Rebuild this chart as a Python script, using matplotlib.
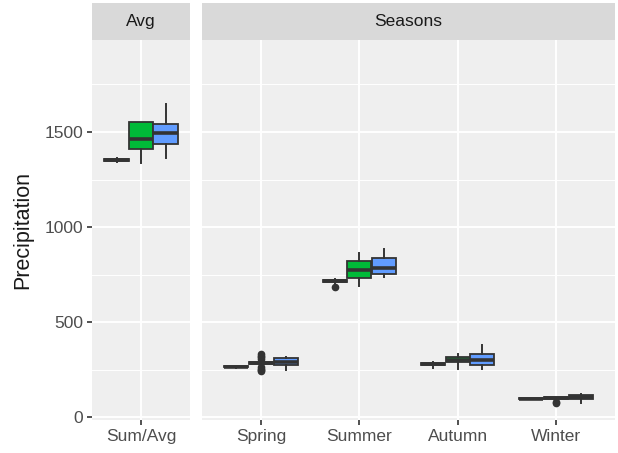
import matplotlib.pyplot as plt

plt.rcParams['font.family'] = ['Liberation Sans', 'DejaVu Sans']

# box statistics per group, three series (red, green, blue) per category
avg_cats = ['Sum/Avg']
season_cats = ['Spring', 'Summer', 'Autumn', 'Winter']

# order: Sum/Avg, Spring, Summer, Autumn, Winter
red_q1 = [1347, 262, 712, 274, 96]
red_med = [1352, 265, 717, 279, 98]
red_q3 = [1357, 268, 722, 284, 101]
red_lo = [1340, 258, 705, 261, 94]
red_hi = [1362, 271, 726, 288, 102]
red_fliers = [[], [], [683], [], []]

green_q1 = [1409, 281, 730, 288, 98]
green_med = [1461, 285, 774, 300, 102]
green_q3 = [1551, 290, 823, 314, 106]
green_lo = [1335, 268, 690, 253, 92]
green_hi = [1551, 300, 865, 331, 108]
green_fliers = [[], [242, 248, 255, 262, 308, 315, 322, 330], [], [], [75, 82]]

blue_q1 = [1437, 274, 751, 276, 98]
blue_med = [1493, 290, 782, 300, 107]
blue_q3 = [1542, 309, 835, 330, 119]
blue_lo = [1362, 247, 735, 251, 75]
blue_hi = [1647, 314, 883, 379, 121]
blue_fliers = [[], [], [], [], []]

fills = ['#F8766D', '#00BA38', '#619CFF']
series = [
    (red_q1, red_med, red_q3, red_lo, red_hi, red_fliers),
    (green_q1, green_med, green_q3, green_lo, green_hi, green_fliers),
    (blue_q1, blue_med, blue_q3, blue_lo, blue_hi, blue_fliers),
]

W, H = 618, 453
fig = plt.figure(figsize=(W / 100, H / 100), dpi=100)
fig.patch.set_facecolor('white')


def px_axes(x0, y0, x1, y1):
    return fig.add_axes([x0 / W, 1 - y1 / H, (x1 - x0) / W, (y1 - y0) / H])


def draw_panel(ax, cats, idx0, xlim):
    ax.set_facecolor('#EFEFEF')
    ax.set_xlim(*xlim)
    ax.set_ylim(-15, 1984)
    for s in ax.spines.values():
        s.set_visible(False)
    for v in [250, 750, 1250, 1750]:
        ax.axhline(v, color='white', lw=0.7, zorder=0)
    for v in [0, 500, 1000, 1500]:
        ax.axhline(v, color='white', lw=1.4, zorder=0)
    for i in range(len(cats)):
        ax.axvline(i + 1, color='white', lw=1.4, zorder=0)
    for k, (q1, med, q3, lo, hi, fl) in enumerate(series):
        stats = []
        pos = []
        for i in range(len(cats)):
            j = idx0 + i
            stats.append(dict(q1=q1[j], med=med[j], q3=q3[j], whislo=lo[j],
                              whishi=hi[j], fliers=fl[j]))
            pos.append(i + 1 + (k - 1) * 0.25)
        ax.bxp(stats, positions=pos, widths=0.245, patch_artist=True,
               showcaps=False, manage_ticks=False,
               boxprops=dict(facecolor=fills[k], edgecolor='#333333', lw=1.3),
               medianprops=dict(color='#333333', lw=2.6),
               whiskerprops=dict(color='#333333', lw=1.4),
               flierprops=dict(marker='o', markersize=4.5,
                               markerfacecolor='#333333',
                               markeredgecolor='#333333'),
               zorder=3)
    ax.set_xticks(range(1, len(cats) + 1))
    ax.set_xticklabels(cats)
    ax.tick_params(axis='x', length=3.5, width=1.2, color='#333333',
                   labelsize=12.5, labelcolor='#4D4D4D', pad=3)


def strip(x0, x1, label):
    sa = px_axes(x0, 3, x1, 40)
    sa.set_facecolor('#D9D9D9')
    sa.set_xticks([])
    sa.set_yticks([])
    for s in sa.spines.values():
        s.set_visible(False)
    sa.text(0.5, 0.5, label, transform=sa.transAxes, ha='center',
            va='center', fontsize=12.5, color='#1A1A1A')


ax1 = px_axes(92, 40, 190, 420)
draw_panel(ax1, avg_cats, 0, (0.5, 1.5))
ax1.set_yticks([0, 500, 1000, 1500])
ax1.tick_params(axis='y', length=3.5, width=1.2, color='#333333',
                labelsize=12.5, labelcolor='#4D4D4D', pad=3)
ax1.set_ylabel('Precipitation', fontsize=15.5, color='#1A1A1A', labelpad=8)

ax2 = px_axes(202, 40, 615, 420)
draw_panel(ax2, season_cats, 1, (0.4, 4.6))
ax2.set_yticks([0, 500, 1000, 1500])
ax2.tick_params(axis='y', left=False, labelleft=False)

strip(92, 190, 'Avg')
strip(202, 615, 'Seasons')

fig.savefig('out.png', dpi=100)
